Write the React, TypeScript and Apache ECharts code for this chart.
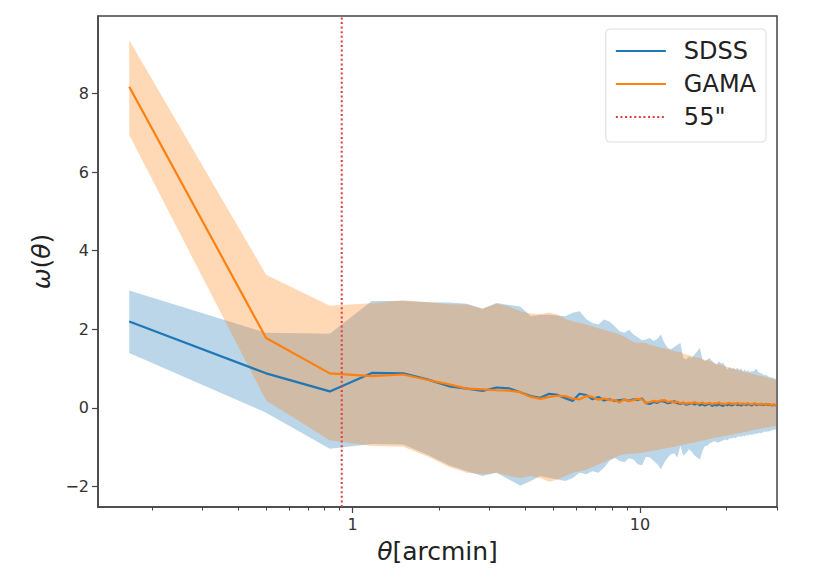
import React, { useEffect, useRef } from "react";
import * as echarts from "echarts";

// angular separation, arcmin
const theta = [
  0.167, 0.5, 0.833, 1.167, 1.5, 1.833, 2.167, 2.5, 2.833, 3.167,
  3.5, 3.833, 4.167, 4.5, 4.833, 5.167, 5.5, 5.833, 6.167, 6.5,
  6.833, 7.167, 7.5, 7.833, 8.167, 8.5, 8.833, 9.167, 9.5, 9.833,
  10.167, 10.5, 10.833, 11.167, 11.5, 11.833, 12.167, 12.5, 12.833, 13.167,
  13.5, 13.833, 14.167, 14.5, 14.833, 15.167, 15.5, 15.833, 16.167, 16.5,
  16.833, 17.167, 17.5, 17.833, 18.167, 18.5, 18.833, 19.167, 19.5, 19.833,
  20.167, 20.5, 20.833, 21.167, 21.5, 21.833, 22.167, 22.5, 22.833, 23.167,
  23.5, 23.833, 24.167, 24.5, 24.833, 25.167, 25.5, 25.833, 26.167, 26.5,
  26.833, 27.167, 27.5, 27.833, 28.167, 28.5, 28.833, 29.167, 29.5, 29.833,
];

const sdssMean = [
  2.2, 0.88, 0.42, 0.89, 0.88, 0.72, 0.55, 0.49, 0.43, 0.52,
  0.5, 0.4, 0.3, 0.26, 0.36, 0.33, 0.25, 0.18, 0.36, 0.33,
  0.22, 0.28, 0.19, 0.22, 0.18, 0.2, 0.21, 0.18, 0.22, 0.2,
  0.24, 0.12, 0.1, 0.15, 0.13, 0.18, 0.16, 0.12, 0.14, 0.17,
  0.12, 0.1, 0.13, 0.08, 0.1, 0.12, 0.09, 0.11, 0.07, 0.1,
  0.06, 0.09, 0.11, 0.05, 0.08, 0.06, 0.1, 0.07, 0.05, 0.09,
  0.07, 0.1, 0.06, 0.08, 0.11, 0.07, 0.09, 0.06, 0.1, 0.08,
  0.07, 0.11, 0.08, 0.06, 0.09, 0.1, 0.07, 0.09, 0.08, 0.1,
  0.07, 0.08, 0.1, 0.07, 0.09, 0.08, 0.06, 0.08, 0.07, 0.07,
];

const sdssUpper = [
  2.99, 1.91, 1.89, 2.72, 2.72, 2.69, 2.68, 2.65, 2.52, 2.67,
  2.62, 2.58, 2.33, 2.37, 2.37, 2.35, 2.33, 2.42, 2.46, 2.26,
  2.16, 2.12, 2.25, 2.2, 2.08, 1.95, 1.91, 1.99, 1.87, 1.8,
  1.72, 1.74, 1.78, 1.7, 1.76, 1.87, 1.65, 1.53, 1.49, 1.55,
  1.61, 1.65, 1.27, 1.23, 1.31, 1.27, 1.36, 1.44, 1.53, 1.23,
  1.19, 1.23, 1.27, 1.19, 1.13, 1.1, 1.19, 1.13, 1.14, 1.06,
  0.98, 1.04, 0.99, 1.03, 0.98, 1.02, 0.96, 1.01, 0.93, 0.98,
  0.93, 0.96, 0.91, 0.94, 0.93, 0.98, 0.99, 0.91, 0.89, 0.88,
  0.85, 0.83, 0.84, 0.81, 0.79, 0.78, 0.77, 0.76, 0.74, 0.72,
];

const sdssLower = [
  1.4, -0.12, -1.04, -0.92, -0.93, -1.2, -1.46, -1.61, -1.73, -1.65,
  -1.82, -1.98, -1.86, -1.73, -1.78, -1.82, -1.86, -1.78, -1.65, -1.69,
  -1.61, -1.65, -1.52, -1.35, -1.27, -1.35, -1.38, -1.28, -1.31, -1.43,
  -1.46, -1.24, -1.26, -1.35, -1.43, -1.56, -1.39, -1.26, -1.18, -1.15,
  -1.26, -0.97, -1.22, -1.14, -1.05, -1.12, -1.21, -1.26, -1.31, -1.1,
  -0.97, -0.96, -0.9, -0.87, -0.84, -0.87, -0.88, -0.85, -0.82, -0.8,
  -0.82, -0.77, -0.78, -0.75, -0.77, -0.73, -0.72, -0.74, -0.7, -0.72,
  -0.69, -0.7, -0.67, -0.69, -0.67, -0.65, -0.66, -0.64, -0.63, -0.65,
  -0.61, -0.6, -0.61, -0.59, -0.6, -0.58, -0.57, -0.56, -0.55, -0.55,
];

const gamaMean = [
  8.17, 1.78, 0.88, 0.81, 0.85, 0.71, 0.6, 0.49, 0.47, 0.45,
  0.44, 0.4, 0.28, 0.23, 0.28, 0.31, 0.3, 0.24, 0.22, 0.3,
  0.28, 0.21, 0.24, 0.2, 0.2, 0.14, 0.22, 0.17, 0.2, 0.23,
  0.22, 0.13, 0.15, 0.18, 0.16, 0.19, 0.2, 0.15, 0.17, 0.13,
  0.16, 0.12, 0.14, 0.11, 0.13, 0.12, 0.15, 0.11, 0.12, 0.14,
  0.1, 0.12, 0.13, 0.09, 0.12, 0.11, 0.14, 0.1, 0.11, 0.09,
  0.12, 0.13, 0.1, 0.12, 0.09, 0.13, 0.11, 0.1, 0.12, 0.09,
  0.11, 0.12, 0.1, 0.09, 0.11, 0.12, 0.1, 0.08, 0.1, 0.11,
  0.09, 0.1, 0.08, 0.09, 0.1, 0.08, 0.07, 0.09, 0.08, 0.07,
];

const gamaUpper = [
  9.35, 3.39, 2.6, 2.66, 2.74, 2.69, 2.64, 2.63, 2.52, 2.65,
  2.58, 2.46, 2.4, 2.38, 2.43, 2.37, 2.26, 2.2, 2.16, 2.12,
  2.08, 2.03, 1.99, 1.95, 1.91, 1.87, 1.81, 1.74, 1.68, 1.66,
  1.66, 1.65, 1.6, 1.58, 1.55, 1.53, 1.52, 1.49, 1.47, 1.45,
  1.43, 1.42, 1.38, 1.36, 1.34, 1.32, 1.3, 1.28, 1.27, 1.25,
  1.22, 1.21, 1.19, 1.18, 1.15, 1.12, 1.11, 1.09, 1.07, 1.06,
  1.04, 1.03, 1.01, 0.99, 0.98, 0.97, 0.95, 0.95, 0.92, 0.91,
  0.9, 0.89, 0.88, 0.87, 0.86, 0.85, 0.84, 0.83, 0.82, 0.81,
  0.8, 0.79, 0.78, 0.77, 0.76, 0.75, 0.74, 0.73, 0.72, 0.71,
];

const gamaLower = [
  6.94, 0.19, -0.82, -0.97, -0.99, -1.24, -1.5, -1.65, -1.69, -1.65,
  -1.73, -1.78, -1.73, -1.78, -1.88, -1.82, -1.73, -1.65, -1.61, -1.57,
  -1.5, -1.44, -1.38, -1.31, -1.27, -1.21, -1.18, -1.17, -1.16, -1.15,
  -1.14, -1.12, -1.1, -1.08, -1.07, -1.05, -1.03, -1.02, -1.0, -0.99,
  -0.97, -0.95, -0.94, -0.92, -0.9, -0.89, -0.88, -0.86, -0.85, -0.83,
  -0.82, -0.8, -0.79, -0.78, -0.76, -0.75, -0.74, -0.73, -0.72, -0.71,
  -0.7, -0.69, -0.68, -0.67, -0.66, -0.65, -0.64, -0.63, -0.62, -0.61,
  -0.6, -0.59, -0.58, -0.57, -0.56, -0.55, -0.54, -0.54, -0.53, -0.52,
  -0.51, -0.51, -0.5, -0.49, -0.49, -0.48, -0.47, -0.47, -0.46, -0.46,
];

const cutTheta = 55 / 60; // 55 arcsec in arcmin
const xMin = 0.13;
const xMax = 30;
const yMin = -2.52;
const yMax = 9.97;
const xMajorTicks = [1, 10];
const xMinorTicks = [0.2, 0.3, 0.4, 0.5, 0.6, 0.7, 0.8, 0.9, 2, 3, 4, 5, 6, 7, 8, 9, 20, 30];
const yTicks = [-2, 0, 2, 4, 6, 8];

const BLUE = "#1f77b4";
const ORANGE = "#ff7f0e";
const RED = "#e23a40";
const AXIS = "#444444";
const FONT = "DejaVu Sans";

function band(name: string, upper: number[], lower: number[], fill: string, z: number) {
  return {
    type: "custom",
    name,
    xAxisIndex: 0,
    yAxisIndex: 0,
    silent: true,
    z,
    clip: true,
    data: theta.map((t, i) => [t, upper[i], lower[i]]),
    encode: { x: 0, y: [1, 2] },
    renderItem: (params: any, api: any) => {
      if (params.dataIndex !== 0) return null;
      const pts: number[][] = [];
      for (let i = 0; i < theta.length; i++) pts.push(api.coord([theta[i], upper[i]]));
      for (let i = theta.length - 1; i >= 0; i--) pts.push(api.coord([theta[i], lower[i]]));
      return { type: "polygon", shape: { points: pts }, style: { fill, stroke: "none" } };
    },
  };
}

export default function App() {
  const ref = useRef<HTMLDivElement>(null);
  useEffect(() => {
    if (!ref.current) return;
    const chart = echarts.init(ref.current, undefined, { renderer: "svg" });
    chart.setOption({
      animation: false,
      backgroundColor: "#ffffff",
      textStyle: { fontFamily: FONT },
      grid: {
        left: 98,
        right: 47,
        top: 16,
        bottom: 72,
        show: true,
        borderColor: AXIS,
        borderWidth: 1.5,
        backgroundColor: "transparent",
      },
      legend: {
        orient: "vertical",
        right: 58,
        top: 29,
        data: ["SDSS", "GAMA", '55"'],
        itemWidth: 50,
        itemHeight: 14,
        itemGap: 9,
        padding: [10, 10, 13, 9],
        itemStyle: { opacity: 0 },
        backgroundColor: "rgba(255,255,255,0.8)",
        borderColor: "#dddddd",
        borderWidth: 1,
        borderRadius: 4,
        textStyle: { fontSize: 24, color: "#222222", fontFamily: FONT, padding: [0, 0, 0, 13] },
      },
      xAxis: [
        {
          type: "log",
          logBase: 10,
          min: xMin,
          max: xMax,
          position: "bottom",
          axisLine: { show: true, onZero: false, lineStyle: { color: AXIS, width: 1.5 } },
          axisTick: { show: true, customValues: xMajorTicks, length: 6, lineStyle: { color: AXIS, width: 1.2 } },
          axisLabel: {
            customValues: xMajorTicks,
            formatter: (v: number) => String(Math.round(v)),
            fontSize: 16,
            color: "#333333",
            margin: 9,
            fontFamily: FONT,
          },
          splitLine: { show: false },
          name: "{i|θ}[arcmin]",
          nameLocation: "middle",
          nameGap: 32,
          nameTextStyle: {
            fontSize: 25,
            color: "#222222",
            fontFamily: FONT,
            rich: { i: { fontSize: 25, fontStyle: "italic", fontFamily: FONT, color: "#222222" } },
          },
        },
        {
          type: "log",
          logBase: 10,
          min: xMin,
          max: xMax,
          position: "bottom",
          axisLine: { show: false, onZero: false },
          axisTick: { show: true, customValues: xMinorTicks, length: 3.5, lineStyle: { color: AXIS, width: 1 } },
          axisLabel: { show: false },
          splitLine: { show: false },
        },
      ],
      yAxis: {
        type: "value",
        min: yMin,
        max: yMax,
        axisLine: { show: true, onZero: false, lineStyle: { color: AXIS, width: 1.5 } },
        axisTick: { show: true, customValues: yTicks, length: 6, lineStyle: { color: AXIS, width: 1.2 } },
        axisLabel: {
          customValues: yTicks,
          formatter: (v: number) => String(v).replace("-", "\u2212"),
          fontSize: 16,
          color: "#333333",
          margin: 9,
          fontFamily: FONT,
        },
        splitLine: { show: false },
        name: "{i|ω}({i|θ})",
        nameLocation: "middle",
        nameRotate: 90,
        nameGap: 44,
        nameTextStyle: {
          fontSize: 25,
          color: "#222222",
          fontFamily: FONT,
          rich: { i: { fontSize: 25, fontStyle: "italic", fontFamily: FONT, color: "#222222" } },
        },
      },
      series: [
        band("SDSS band", sdssUpper, sdssLower, "rgba(31,119,180,0.3)", 1),
        band("GAMA band", gamaUpper, gamaLower, "rgba(255,127,14,0.3)", 2),
        {
          type: "line",
          name: "SDSS",
          xAxisIndex: 0,
          z: 3,
          symbol: "none",
          showSymbol: false,
          color: BLUE,
          lineStyle: { color: BLUE, width: 2.2 },
          data: theta.map((t, i) => [t, sdssMean[i]]),
        },
        {
          type: "line",
          name: "GAMA",
          xAxisIndex: 0,
          z: 4,
          symbol: "none",
          showSymbol: false,
          color: ORANGE,
          lineStyle: { color: ORANGE, width: 2.2 },
          data: theta.map((t, i) => [t, gamaMean[i]]),
        },
        {
          type: "line",
          name: '55"',
          xAxisIndex: 0,
          z: 5,
          symbol: "none",
          showSymbol: false,
          color: RED,
          lineStyle: { color: RED, width: 2, type: [2, 2.6] },
          data: [
            [cutTheta, yMin],
            [cutTheta, yMax],
          ],
        },
      ],
    });
    return () => chart.dispose();
  }, []);
  return <div ref={ref} style={{ position: "fixed", left: 0, top: 0, width: 824, height: 579 }} />;
}
